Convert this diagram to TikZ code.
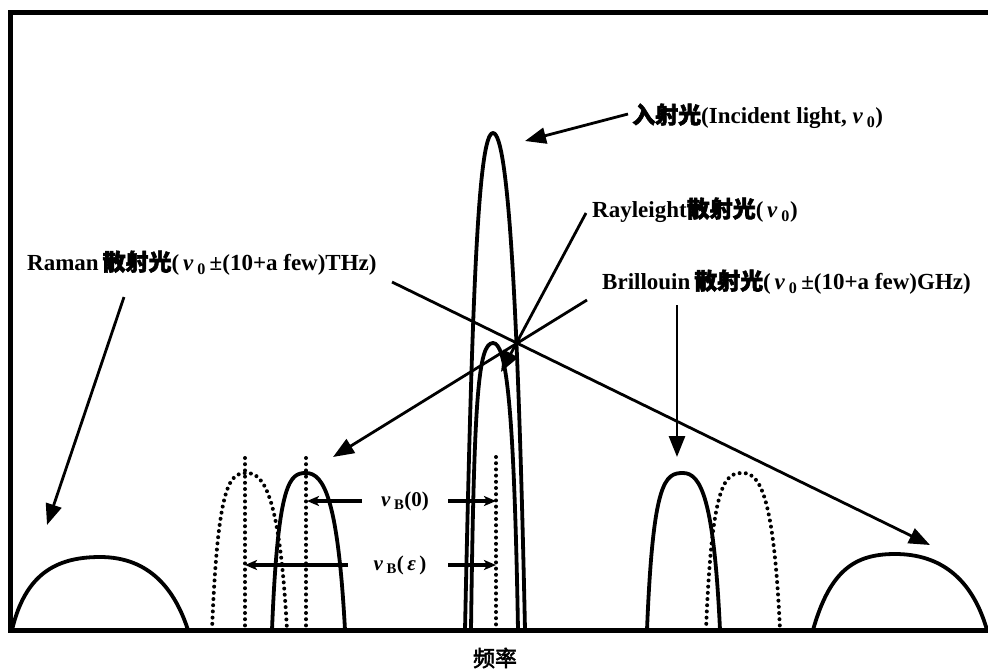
\documentclass[tikz,border=0pt]{standalone}
\usepackage{fontspec}
\setmainfont{Liberation Serif}
\newfontfamily\cjk[FakeBold=2.5]{Noto Sans CJK SC}
\usetikzlibrary{arrows.meta}
\newcommand\nuz{\textit{ν}\,\textsubscript{0}}
\begin{document}
\begin{tikzpicture}[x=1pt,y=-1pt,
  peak/.style={line width=3.8pt, line join=round},
  dpeak/.style={line width=4pt, line cap=round, dash pattern=on 0pt off 6.2pt},
  bigarrow/.style={line width=2.8pt, -{Triangle[length=21pt,width=16pt]}},
  smallarrow/.style={line width=3.4pt, -{Stealth[length=12pt,width=10pt,inset=3pt]}},
  txt/.style={font=\fontsize{21}{24}\selectfont\bfseries, inner sep=0pt},
  lbl/.style={txt, font=\fontsize{23}{26}\selectfont\bfseries, anchor=west},
  frame/.style={line width=5pt}]
\useasboundingbox (0,0) rectangle (988,670);
% frame
\draw[frame] (988,12) -- (10,12) -- (10,630) -- (988,630);
% Raman peaks
\draw[peak] (12,630) .. controls (25,575) and (55,557) .. (100,557) .. controls (150,557) and (175,590) .. (188,630);
\draw[peak] (813,630) .. controls (830,570) and (855,554) .. (895,554) .. controls (940,554) and (972,578) .. (987,630);
% Brillouin peaks
\draw[dpeak] (212,630) .. controls (218,480) and (230,473) .. (247,473) .. controls (265,473) and (280,500) .. (287,630);
\draw[peak] (272,630) .. controls (278,480) and (290,473) .. (306,473) .. controls (324,473) and (338,500) .. (345,630);
\draw[peak] (647,630) .. controls (653,480) and (665,473) .. (683,473) .. controls (701,473) and (714,500) .. (720,630);
\draw[dpeak] (706,630) .. controls (712,480) and (725,473) .. (743,473) .. controls (761,473) and (774,500) .. (780,630);
% incident and Rayleigh peaks
\draw[peak] (465,630) .. controls (472,300) and (478,133) .. (493,133) .. controls (508,133) and (518,300) .. (525,630);
\draw[peak] (471,630) .. controls (474,400) and (478,343) .. (493,343) .. controls (506,343) and (514,400) .. (518,630);
% dotted verticals
\draw[dpeak] (245,458) -- (245,630);
\draw[dpeak] (306,458) -- (306,630);
\draw[dpeak] (496,457) -- (496,630);
% labels
\node[lbl] (inc) at (632,116) {{\cjk 入射光}(Incident light, \nuz)};
\node[lbl] (ray) at (592,210) {Rayleight{\cjk 散射光}(\,\nuz)};
\node[lbl] (ram) at (27,263) {Raman\,{\cjk 散射光}(\,\nuz\,±(10+a few)THz)};
\node[lbl] (bri) at (602,282) {Brillouin\,{\cjk 散射光}(\,\nuz\,±(10+a few)GHz)};
\node[txt] (nb0) at (405,501) {\textit{ν}\,\textsubscript{B}(0)};
\node[txt] (nbe) at (400,565) {\textit{ν}\,\textsubscript{B}(\,\textit{ε}\,)};
\node[txt, font=\fontsize{22}{24}\selectfont\cjk] (freq) at (495,658) {频率};
% arrow coordinates
\coordinate (sInc) at (628,114);  \coordinate (tInc) at (525,141);
\coordinate (sRay) at (586,213);  \coordinate (tRay) at (501,372);
\coordinate (sBri) at (587,300);  \coordinate (tBri) at (333,457);
\coordinate (sBri2) at (677,305); \coordinate (tBri2) at (677,457);
\coordinate (sRam) at (124,297);  \coordinate (tRam) at (47,525);
\coordinate (sRam2) at (392,282); \coordinate (tRam2) at (930,545);
\coordinate (sA) at (362,501); \coordinate (tA) at (307,501);
\coordinate (sB) at (448,501); \coordinate (tB) at (496,501);
\coordinate (sC) at (348,565); \coordinate (tC) at (245,565);
\coordinate (sD) at (448,565); \coordinate (tD) at (496,565);
\draw[bigarrow] (sInc) -- (tInc);
\draw[bigarrow] (sRay) -- (tRay);
\draw[bigarrow] (sBri) -- (tBri);
\draw[bigarrow] (sBri2) -- (tBri2);
\draw[bigarrow] (sRam) -- (tRam);
\draw[bigarrow] (sRam2) -- (tRam2);
\draw[smallarrow] (sA) -- (tA);
\draw[smallarrow] (sB) -- (tB);
\draw[smallarrow] (sC) -- (tC);
\draw[smallarrow] (sD) -- (tD);
\end{tikzpicture}
\end{document}
